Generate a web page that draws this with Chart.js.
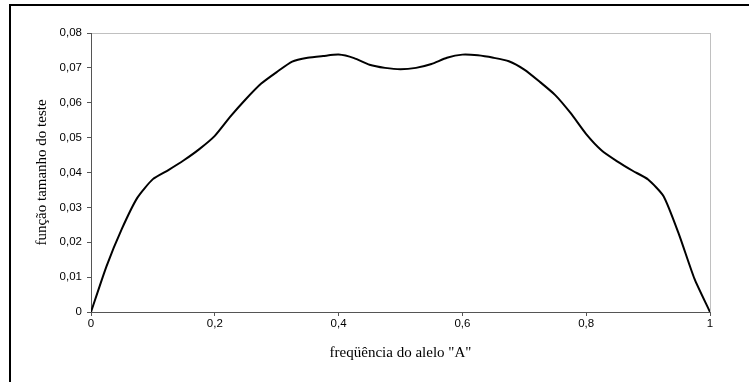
<!DOCTYPE html>
<html>
<head>
<meta charset="utf-8">
<script src="https://cdn.jsdelivr.net/npm/chart.js@4/dist/chart.umd.min.js"></script>
<style>
  html, body { margin: 0; padding: 0; background: #fff; }
  #wrap { position: relative; width: 749px; height: 382px; overflow: hidden; }
  #frame { position: absolute; left: 9px; top: 4px; width: 800px; height: 400px;
           border-top: 2px solid #000; border-left: 2px solid #000; pointer-events: none; }
  canvas { position: absolute; left: 0; top: 0; }
</style>
</head>
<body>
<div id="wrap">
  <canvas id="chart" width="749" height="382"></canvas>
  <div id="frame"></div>
</div>
<script>
// allele frequency (x) and test size function (y)
const freq = [0, 0.025, 0.05, 0.075, 0.1, 0.125, 0.15, 0.175, 0.2, 0.225,
  0.25, 0.275, 0.3, 0.325, 0.35, 0.375, 0.4, 0.425, 0.45, 0.475,
  0.5, 0.525, 0.55, 0.575, 0.6, 0.625, 0.65, 0.675, 0.7, 0.725,
  0.75, 0.775, 0.8, 0.825, 0.85, 0.875, 0.9, 0.925, 0.95, 0.975, 1];
const testSize = [0, 0.0131, 0.0239, 0.0328, 0.0381, 0.0407, 0.0435, 0.0467, 0.0505, 0.0560,
  0.0610, 0.0655, 0.0688, 0.0718, 0.0729, 0.0734, 0.0738, 0.0728, 0.0709, 0.0700,
  0.0696, 0.0700, 0.0711, 0.0729, 0.0738, 0.0736, 0.0729, 0.0719, 0.0695, 0.0660,
  0.0622, 0.0570, 0.0510, 0.0463, 0.0432, 0.0405, 0.0380, 0.0332, 0.0222, 0.0095, 0];

const xTitle = 'freqüência do alelo "A"';
const yTitle = 'função tamanho do teste';

const fmt = v => (v === 0 ? '0' : String(+v.toFixed(2)).replace('.', ','));

// light grey frame on top and right of the plot area
const plotFrame = {
  id: 'plotFrame',
  beforeDraw(chart) {
    const { ctx, chartArea: a } = chart;
    ctx.save();
    ctx.strokeStyle = '#c0c0c0';
    ctx.lineWidth = 1;
    ctx.strokeRect(Math.round(a.left) + 0.5, Math.round(a.top) + 0.5,
      Math.round(a.right - a.left), Math.round(a.bottom - a.top));
    ctx.restore();
  }
};

const axisColor = '#555';

new Chart(document.getElementById('chart').getContext('2d'), {
  type: 'line',
  data: {
    datasets: [{
      data: freq.map((x, i) => ({ x, y: testSize[i] })),
      borderColor: '#000',
      borderWidth: 2,
      pointRadius: 0,
      tension: 0.2,
      fill: false
    }]
  },
  options: {
    responsive: false,
    animation: false,
    layout: { padding: { left: 0, right: 39, top: 33, bottom: 0 } },
    plugins: { legend: { display: false }, tooltip: { enabled: false } },
    scales: {
      x: {
        type: 'linear',
        min: 0, max: 1,
        afterFit(s) { s.height = 70; },
        border: { color: axisColor, width: 1 },
        grid: { drawOnChartArea: false, drawTicks: true, tickLength: 4, color: axisColor },
        ticks: {
          stepSize: 0.2, padding: 1, color: '#000',
          font: { family: '"Liberation Sans", Arial, sans-serif', size: 11.5 },
          maxRotation: 0,
          callback: v => fmt(v)
        },
        title: {
          display: true, text: xTitle, color: '#000',
          font: { family: '"Liberation Serif", "Times New Roman", serif', size: 15 },
          padding: { top: 0, bottom: 20 }
        }
      },
      y: {
        min: 0, max: 0.08,
        afterFit(s) { s.width = 91; },
        border: { color: axisColor, width: 1 },
        grid: { drawOnChartArea: false, drawTicks: true, tickLength: 4, color: axisColor },
        ticks: {
          stepSize: 0.01, padding: 5, color: '#000',
          font: { family: '"Liberation Sans", Arial, sans-serif', size: 11.5 },
          callback: v => fmt(v)
        },
        title: {
          display: true, text: yTitle, color: '#000',
          font: { family: '"Liberation Serif", "Times New Roman", serif', size: 15 },
          padding: { top: 33, bottom: 0 }
        }
      }
    }
  },
  plugins: [plotFrame]
});
</script>
</body>
</html>
